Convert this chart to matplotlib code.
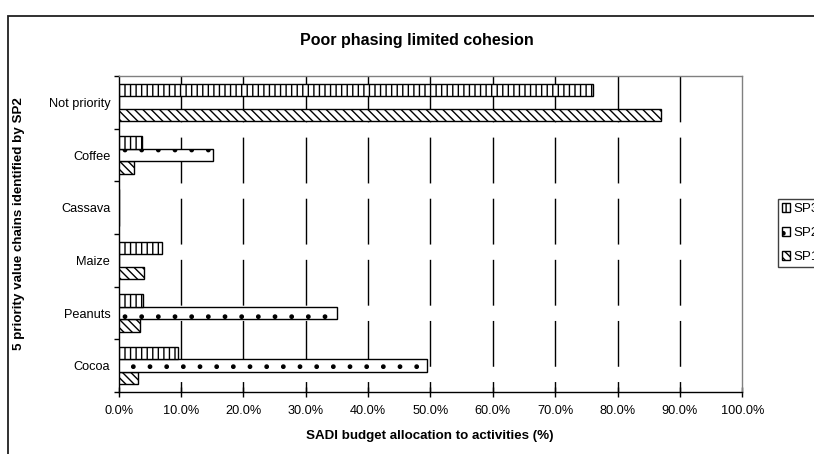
import matplotlib
matplotlib.use("Agg")
import matplotlib.pyplot as plt
from matplotlib.patches import Rectangle
from matplotlib.ticker import FixedLocator, FuncFormatter

plt.rcParams['font.family'] = ['Liberation Sans', 'DejaVu Sans']
plt.rcParams['hatch.linewidth'] = 1.0
plt.rcParams['lines.scale_dashes'] = False

# value chains, bottom to top
chains = ['Cocoa', 'Peanuts', 'Maize', 'Cassava', 'Coffee', 'Not priority']

# share of SADI budget (%) per phase
sp1 = [3.1, 3.4, 4.1, 0.0, 2.5, 87.0]
sp2 = [49.5, 35.0, 0.0, 0.0, 15.1, 0.0]
sp3 = [9.5, 3.9, 7.0, 0.0, 3.7, 76.0]

xticks = [0, 10, 20, 30, 40, 50, 60, 70, 80, 90, 100]

W, H = 814, 454
fig = plt.figure(figsize=(W / 100, H / 100), dpi=100)
ax = fig.add_axes([118.7 / W, 1 - 392 / H, (742.3 - 118.7) / W, (392 - 76) / H])

# outer chart frame (runs off the right and bottom edges)
fig.patches.append(Rectangle((8 / W, -0.2), 1.2, 1.2 - 16 / H,
                             transform=fig.transFigure, fill=False,
                             edgecolor='#202020', linewidth=1.3))

bh = 0.238
ypos = [i + 0.5 for i in range(len(chains))]
ax.barh([y - bh for y in ypos], sp1, height=bh, color='white', edgecolor='black',
        linewidth=1.0, hatch='\\\\\\\\', label='SP1', zorder=3)
ax.barh(ypos, sp2, height=bh, color='white', edgecolor='black',
        linewidth=1.0, hatch='.', label='SP2', zorder=3)
ax.barh([y + bh for y in ypos], sp3, height=bh, color='white', edgecolor='black',
        linewidth=1.0, hatch='|||', label='SP3', zorder=3)

ax.set_xlim(0, 100)
ax.set_ylim(0, len(chains))

# dashed vertical gridlines drawn from the top down
for x in xticks[1:-1]:
    ax.plot([x, x], [len(chains), 0], color='black', linewidth=1.0,
            linestyle=(0, (33, 11)), zorder=1)

ax.set_xticks(xticks)
ax.xaxis.set_major_formatter(FuncFormatter(lambda v, p: '%.1f%%' % v))
ax.tick_params(axis='x', direction='inout', length=7, width=1, labelsize=9.2, pad=6)

ax.set_yticks(ypos)
ax.set_yticklabels(chains)
ax.yaxis.set_minor_locator(FixedLocator(range(len(chains) + 1)))
ax.tick_params(axis='y', which='major', length=0, labelsize=9.2, pad=6)
ax.tick_params(axis='y', which='minor', direction='out', length=3.6, width=1)

for s in ('top', 'right'):
    ax.spines[s].set_color('#808080')
    ax.spines[s].set_linewidth(1.0)
for s in ('left', 'bottom'):
    ax.spines[s].set_color('black')
    ax.spines[s].set_linewidth(1.0)

fig.text(416.7 / W, 1 - 40.7 / H, 'Poor phasing limited cohesion', ha='center',
         va='center', fontsize=11.5, fontweight='bold')
fig.text(430 / W, 1 - 435.7 / H, 'SADI budget allocation to activities (%)',
         ha='center', va='center', fontsize=9.6, fontweight='bold')
fig.text(19 / W, 1 - 224 / H, '5 priority value chains identified by SP2',
         ha='center', va='center', rotation=90, fontsize=9.6, fontweight='bold')

handles, labels = ax.get_legend_handles_labels()
leg = fig.legend(handles[::-1], labels[::-1], loc='upper left',
                 bbox_to_anchor=(777.7 / W, 1 - 199 / H), fontsize=9.6,
                 fancybox=False, edgecolor='#404040', framealpha=1,
                 handlelength=0.65, handleheight=0.65, handletextpad=0.2,
                 borderpad=0.3, labelspacing=0.9, borderaxespad=0)
leg.get_frame().set_linewidth(1.0)

fig.savefig('out.png', dpi=100)
